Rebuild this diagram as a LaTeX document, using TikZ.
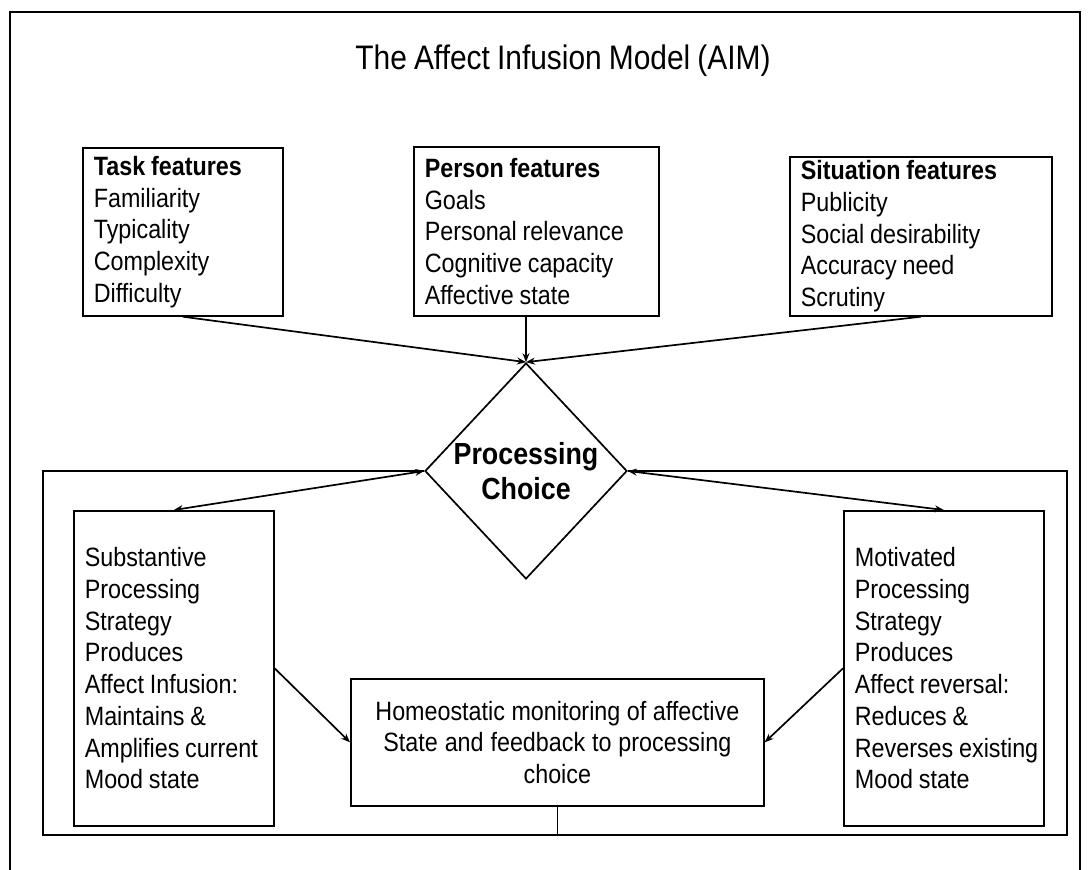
\documentclass[tikz,border=0pt]{standalone}
\usepackage{fontspec}
\setmainfont{Liberation Sans}[FakeStretch=0.88, WordSpace=0.85]
\usetikzlibrary{shapes.geometric,arrows.meta}
\tikzstyle{box}=[%
	draw, rectangle, line width=1.7pt, inner xsep=11pt, inner ysep=0pt,
	align=left, anchor=north west, font=\fontsize{26.5}{31.7}\selectfont,
	execute at begin node={\spaceskip=0.22em plus 0.1em\relax}
]
\tikzstyle{link}=[line width=1.7pt]

\begin{document}
\begin{tikzpicture}[x=1pt, y=-1pt, >={Stealth[length=9pt,width=7pt]}]
	\useasboundingbox (0,0) rectangle (1090,870);
	% outer frame, open at the foot
	\draw[link] (10,872) -- (10,12) -- (1080,12) -- (1080,872);

	\node[font=\fontsize{34}{40}\selectfont] (title) at (563,61) {The Affect Infusion Model (AIM)};

	\node[box, text width=178pt, minimum height=168pt] (task) at (82,147)
		{\textbf{Task features}\\Familiarity\\Typicality\\Complexity\\Difficulty};
	\node[box, text width=223pt, minimum height=169pt] (person) at (413,146)
		{\textbf{Person features}\\Goals\\Personal relevance\\Cognitive capacity\\Affective state};
	\node[box, text width=240pt, minimum height=159pt] (situation) at (789,156)
		{\textbf{Situation features}\\Publicity\\Social desirability\\Accuracy need\\Scrutiny};

	\node[diamond, draw, fill=white, line width=1.7pt, inner sep=0pt,
		minimum width=198pt, minimum height=216pt, align=center,
		font=\bfseries\fontsize{30.5}{35}\selectfont] (choice) at (526,471) {Processing\\Choice};

	\node[box, text width=178pt, minimum height=315pt] (subst) at (73,510)
		{Substantive\\Processing\\Strategy\\Produces\\Affect Infusion:\\Maintains \&\\\mbox{Amplifies current}\\Mood state};
	\node[box, text width=178pt, minimum height=315pt] (motiv) at (843,510)
		{Motivated\\Processing\\Strategy\\Produces\\Affect reversal:\\Reduces \&\\\mbox{Reverses existing}\\Mood state};
	\node[box, align=center, text width=391pt, minimum height=127pt] (homeo) at (350,678)
		{Homeostatic monitoring of affective\\State and feedback to processing\\choice};

	% lower frame
	\coordinate (fbl) at (43,835);
	\coordinate (fbr) at (1067,835);
	\draw[link] (choice.west) -| (fbl) -- (fbr) |- (choice.east);

	\foreach \src in {task, situation} {
		\draw[link, ->] (\src.south) -- (choice.north);
	}
	\draw[link, ->] (choice.north |- person.south) -- (choice.north);
	\draw[link, <->] (subst.north) -- (choice.west);
	\draw[link, <->] (motiv.north) -- (choice.east);
	\draw[link, ->] (subst.east) -- (homeo.west);
	\draw[link, ->] (motiv.west) -- (homeo.east);
	\draw[link] (homeo.south) -- (homeo.south |- fbl);
\end{tikzpicture}
\end{document}
